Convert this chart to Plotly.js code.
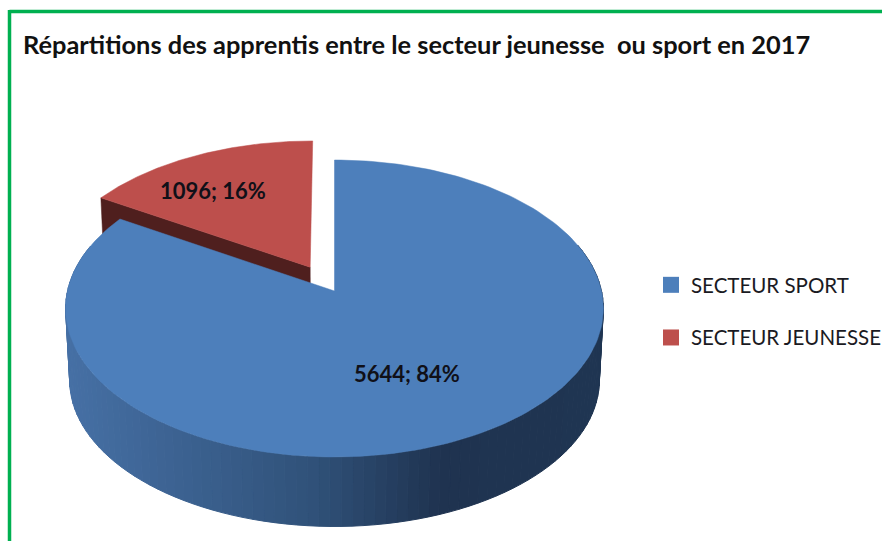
<!DOCTYPE html>
<html>
<head>
<meta charset="utf-8">
<script src="https://cdn.plot.ly/plotly-3.0.1.min.js"></script>
<style>html,body{margin:0;padding:0;background:#fff;overflow:hidden}#c{width:882px;height:541px}</style>
</head>
<body>
<div id="c"></div>
<script>
const categories = ['SECTEUR SPORT', 'SECTEUR JEUNESSE'];
const values = [5644, 1096];
const percentLabels = [84, 16];
const colors = ['#4d7fbb', '#bd4f4c'];
const wallDark = '#4f1f1e';
const titleText = 'Répartitions des apprentis entre le secteur jeunesse  ou sport en 2017';

// 3D projection settings (layout only)
const X0 = 334.5, Y0 = 291, RX = 267, RY = 146.4, K = 0.1178, DEPTH = 72, SHRINK = 0.985, EXPLODE = 0.19;
const total = values.reduce((a, b) => a + b, 0);
const TAU = Math.PI * 2;
const a0 = 0, a1 = TAU * values[0] / total, a2 = TAU;
const eMid = (a1 + a2) / 2;

function proj(u, v, low) {
  const w = 1 + K * v, s = low ? SHRINK : 1;
  return [X0 + s * RX * u / w, Y0 + (low ? DEPTH : 0) - s * RY * v / w];
}
function polar(t, e) {
  return [Math.sin(t) + e * Math.sin(eMid), Math.cos(t) + e * Math.cos(eMid)];
}
function arc(from, to, e, low, n) {
  const xs = [], ys = [];
  for (let i = 0; i <= n; i++) {
    const t = from + (to - from) * i / n;
    const q = polar(t, e);
    const p = proj(q[0], q[1], low);
    xs.push(p[0]); ys.push(p[1]);
  }
  return [xs, ys];
}
function apex(e, low) {
  return proj(e * Math.sin(eMid), e * Math.cos(eMid), low);
}
function slice(from, to, e, color, name) {
  const [xs, ys] = arc(from, to, e, false, 120);
  const c = apex(e, false);
  return { x: [c[0], ...xs, c[0]], y: [c[1], ...ys, c[1]], mode: 'lines', fill: 'toself', fillcolor: color,
    line: { color: color, width: 0.5 }, hoverinfo: 'skip', showlegend: false, name: name };
}
const stops = [[65, [70, 112, 165]], [310, [48, 82, 122]], [440, [31, 51, 80]], [605, [31, 53, 82]]];
function wallColor(x) {
  for (let i = 0; i < stops.length - 1; i++) {
    const a = stops[i], b = stops[i + 1];
    if (x <= b[0]) {
      const f = Math.max(0, (x - a[0]) / (b[0] - a[0]));
      return 'rgb(' + a[1].map((c, j) => Math.round(c + (b[1][j] - c) * f)).join(',') + ')';
    }
  }
  return 'rgb(31,53,82)';
}

const traces = [];
// red wall (cut face)
{
  const e = EXPLODE;
  const topC = apex(e, false), lowC = apex(e, true);
  const q = polar(a1, e), t = proj(q[0], q[1], false), b = proj(q[0], q[1], true);
  traces.push({ x: [topC[0], t[0], b[0], lowC[0], topC[0]], y: [topC[1], t[1], b[1], lowC[1], topC[1]], mode: 'lines',
    fill: 'toself', fillcolor: wallDark, line: { color: wallDark, width: 0.5 }, hoverinfo: 'skip', showlegend: false });
}
traces.push(slice(a1, a2, EXPLODE, colors[1], categories[1]));
// blue outer wall strips
const STRIPS = 140;
for (let i = 0; i < STRIPS; i++) {
  const s = a0 + (a1 - a0) * i / STRIPS, f = a0 + (a1 - a0) * (i + 1) / STRIPS;
  const qa = [Math.sin(s), Math.cos(s)], qb = [Math.sin(f), Math.cos(f)];
  const ta = proj(qa[0], qa[1], false), tb = proj(qb[0], qb[1], false), ba = proj(qa[0], qa[1], true), bb = proj(qb[0], qb[1], true);
  if (qa[1] > 0.3 && qb[1] > 0.3) continue;
  const col = wallColor((ta[0] + tb[0]) / 2);
  traces.push({ x: [ta[0], tb[0], bb[0], ba[0], ta[0]], y: [ta[1], tb[1], bb[1], ba[1], ta[1]], mode: 'lines', fill: 'toself',
    fillcolor: col, line: { color: col, width: 1 }, hoverinfo: 'skip', showlegend: false });
}
// blue top face: no explosion
{
  const xs = [], ys = [];
  for (let i = 0; i <= 200; i++) {
    const t = a0 + (a1 - a0) * i / 200;
    const p = proj(Math.sin(t), Math.cos(t), false);
    xs.push(p[0]); ys.push(p[1]);
  }
  const c = proj(0, 0, false);
  traces.push({ x: [c[0], ...xs, c[0]], y: [c[1], ...ys, c[1]], mode: 'lines', fill: 'toself', fillcolor: colors[0],
    line: { color: colors[0], width: 0.5 }, hoverinfo: 'skip', showlegend: false, name: categories[0] });
}
// legend entries
categories.forEach((c, i) => traces.push({ x: [null], y: [null], mode: 'markers', name: c, legendgroup: c, showlegend: true,
  marker: { symbol: 'square', size: 16, color: colors[i] } }));

const labelFont = { family: 'Lato, sans-serif', size: 22, color: '#101018', weight: 700 };
function labelText(i) { return values[i] + '; ' + percentLabels[i] + '%'; }

const layout = {
  width: 882, height: 541, margin: { l: 0, r: 0, t: 0, b: 0, autoexpand: false }, paper_bgcolor: '#fff', plot_bgcolor: '#fff',
  xaxis: { range: [0, 882], visible: false, fixedrange: true },
  yaxis: { range: [541, 0], visible: false, fixedrange: true },
  title: { text: '<b>' + titleText + '</b>', x: 23 / 882, xanchor: 'left', y: 1 - 45 / 541, yanchor: 'middle',
    font: { family: 'Lato, sans-serif', size: 25.4, color: '#111' } },
  legend: { x: 651 / 882, xanchor: 'left', y: 1 - 265 / 541, yanchor: 'top', font: { family: 'Lato, sans-serif', size: 20.5, color: '#1a1a22' },
    tracegroupgap: 23, itemclick: false, itemdoubleclick: false, bgcolor: 'rgba(0,0,0,0)' },
  shapes: [
    { type: 'line', xref: 'x', yref: 'y', x0: 9.5, x1: 882, y0: 11.5, y1: 11.5, line: { color: '#00b050', width: 3.5 } },
    { type: 'line', xref: 'x', yref: 'y', x0: 9.5, x1: 9.5, y0: 10, y1: 541, line: { color: '#00b050', width: 3.5 } }
  ],
  annotations: [
    { x: 213, y: 190, xref: 'x', yref: 'y', text: labelText(1), showarrow: false, font: labelFont },
    { x: 407, y: 373, xref: 'x', yref: 'y', text: labelText(0), showarrow: false, font: labelFont }
  ]
};
Plotly.newPlot('c', traces, layout, { displayModeBar: false });
</script>
</body>
</html>
